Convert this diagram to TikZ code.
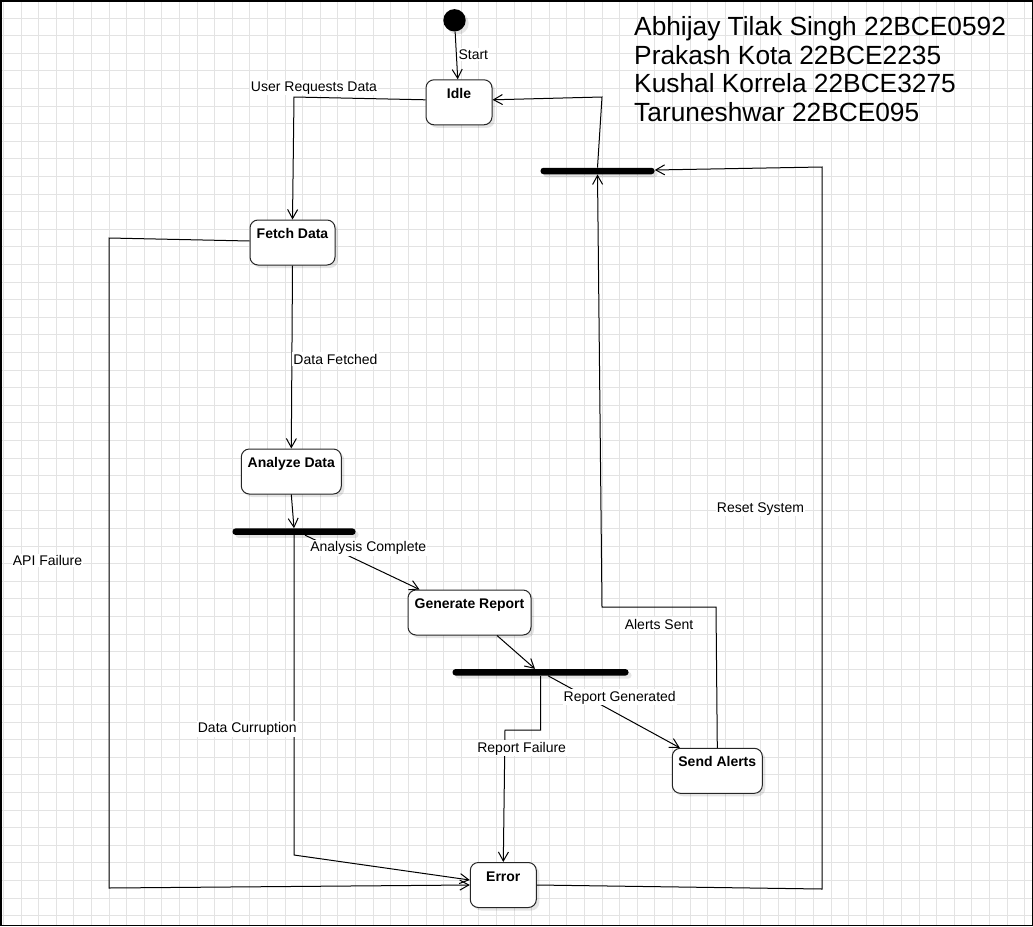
\documentclass[tikz,border=0pt]{standalone}
\usepackage{fontspec}
\setmainfont{Liberation Sans}
\usetikzlibrary{arrows.meta,shadows,calc}
\begin{document}
\begin{tikzpicture}[x=1pt,y=-1pt,
  every node/.style={inner sep=0pt, font=\fontsize{14}{16.8}\selectfont},
  gridline/.style={draw=black!11, line width=1pt},
  shad/.style={drop shadow={shadow xshift=3pt, shadow yshift=-3pt, fill=black, opacity=0.10}},
  state/.style={draw=black!85, line width=1pt, rounded corners=8pt, fill=white,
    minimum width=#1, minimum height=45pt, shad},
  stlabel/.style={anchor=base, yshift=-19pt, font=\bfseries\fontsize{14}{16.8}\selectfont},
  syncbar/.style={fill=black, rounded corners=3pt, minimum height=6.5pt, minimum width=#1, shad},
  initstate/.style={circle, fill=black, minimum size=22.4pt, shad},
  conn/.style={draw=black, line width=1pt, -{Straight Barb[length=9pt,width=10pt]}},
  elabel/.style={fill=white, inner xsep=1pt, inner ysep=1.5pt, anchor=base},
  ttl/.style={anchor=base west, font=\fontsize{26.3}{30}\selectfont}
]
\useasboundingbox (0,0) rectangle (1033,926);
\fill[white] (0,0) rectangle (1033,926);
% grid
\foreach \i in {0,...,58} \draw[gridline] ({3.4+17.61*\i},0) -- ({3.4+17.61*\i},926);
\foreach \j in {0,...,52} \draw[gridline] (0,{0.4+17.6*\j}) -- (1033,{0.4+17.6*\j});
\draw[line width=1.5pt] (0.75,0.75) rectangle (1032.25,925.25);

% nodes
\node[initstate] (init) at (454.5,20.3) {};
\node[state=66, label={[stlabel]north:Idle}] (idle) at (459,102.3) {};
\node[state=85, label={[stlabel]north:Fetch Data}] (fetch) at (292.5,242.5) {};
\node[state=100, label={[stlabel]north:Analyze Data}] (analyze) at (291.3,471.5) {};
\node[state=123, label={[stlabel]north:Generate Report}] (gen) at (469.5,612.5) {};
\node[state=90, label={[stlabel]north:Send Alerts}] (send) at (717.3,770.8) {};
\node[state=66, label={[stlabel]north:Error}] (err) at (503.3,885) {};
\node[syncbar=123] (bar1) at (294,531.7) {};
\node[syncbar=176] (bar2) at (540.5,672.3) {};
\node[syncbar=114] (bar3) at (597.5,171) {};

% title
\node[ttl] (t1) at (634,35.5) {Abhijay Tilak Singh 22BCE0592};
\node[ttl] (t2) at (634,64) {Prakash Kota 22BCE2235};
\node[ttl] (t3) at (634,92.5) {Kushal Korrela 22BCE3275};
\node[ttl] (t4) at (634,121) {Taruneshwar 22BCE095};

% connectors
\draw[conn] (init) -- (idle);
\draw[conn] ([yshift=2.5pt]idle.west) -- (294,97) -- (fetch.north);
\draw[conn] (fetch.south) -- (analyze.north);
\draw[conn] (analyze.south) -- (bar1.north);
\draw[conn] ([xshift=11pt]bar1.south) -- ([xshift=12pt]gen.north west);
\draw[conn] (bar1.south) -- (294,855) -- ([yshift=5pt]err.west);
\draw[conn] ([yshift=1.5pt]fetch.west) -- (109,238) -- (109,888) -- (err.west);
\draw[conn] ([xshift=27.5pt]gen.south) -- ([xshift=-5.5pt]bar2.north);
\draw[conn] ([xshift=7.5pt]bar2.south) -- ([xshift=8pt]send.north west);
\draw[conn] (bar2.south) -- (540.5,730) -- (505,730) -- (err.north);
\draw[conn] (send.north) -- (716,607) -- (602,607) -- (bar3.south);
\draw[conn] (bar3.north) -- (602,97) -- ([yshift=2.5pt]idle.east);
\draw[conn] (err.east) -- (822,889) -- (822,167) -- ([yshift=1pt]bar3.east);

% connector labels
\node[elabel] (lstart) at (473.3,59.3) {Start};
\node[elabel] (lreq) at (314,91) {User Requests Data};
\node[elabel] (lfetched) at (335.5,364) {Data Fetched};
\node[elabel] (lanalysis) at (368.3,551.7) {Analysis Complete};
\node[elabel] (lcorrupt) at (247.3,732.3) {Data Curruption};
\node[elabel] (lapi) at (47.5,565.7) {API Failure};
\node[elabel] (lgen) at (619.7,701) {Report Generated};
\node[elabel] (lfail) at (521.7,752) {Report Failure};
\node[elabel] (lsent) at (659,629) {Alerts Sent};
\node[elabel] (lreset) at (760.5,512) {Reset System};
\end{tikzpicture}
\end{document}
